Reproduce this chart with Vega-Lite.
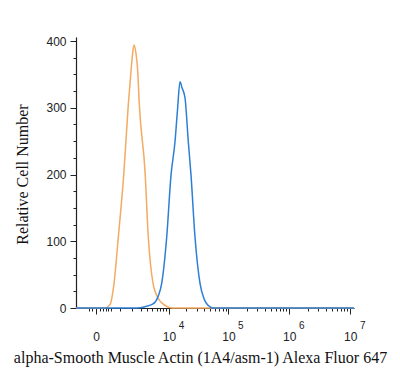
{
  "$schema": "https://vega.github.io/schema/vega-lite/v6.json",
  "width": 278,
  "height": 271,
  "autosize": {"type": "none"},
  "padding": {"left": 76, "top": 37, "right": 46, "bottom": 70},
  "background": "white",
  "config": {
    "view": {"stroke": null},
    "axis": {
      "domainColor": "#222222",
      "domainWidth": 1.2,
      "tickColor": "#222222",
      "tickWidth": 1,
      "labelFont": "Liberation Sans",
      "labelColor": "#222222",
      "titleFont": "Liberation Serif",
      "titleFontWeight": "normal",
      "titleColor": "#111111",
      "titleFontSize": 16,
      "grid": false
    }
  },
  "datasets": {
    "isotype": [
      {"fluorescence": -767, "count": 0},
      {"fluorescence": 275, "count": 0},
      {"fluorescence": 473, "count": 5},
      {"fluorescence": 662, "count": 37},
      {"fluorescence": 898, "count": 106},
      {"fluorescence": 1277, "count": 205},
      {"fluorescence": 1622, "count": 305},
      {"fluorescence": 1869, "count": 355},
      {"fluorescence": 2020, "count": 380},
      {"fluorescence": 2174, "count": 394},
      {"fluorescence": 2390, "count": 382},
      {"fluorescence": 2602, "count": 355},
      {"fluorescence": 2807, "count": 305},
      {"fluorescence": 3643, "count": 205},
      {"fluorescence": 4217, "count": 106},
      {"fluorescence": 5168, "count": 37},
      {"fluorescence": 6382, "count": 15},
      {"fluorescence": 8517, "count": 4},
      {"fluorescence": 11302, "count": 0},
      {"fluorescence": 11535000, "count": 0}
    ],
    "antibody": [
      {"fluorescence": -767, "count": 0},
      {"fluorescence": 2515, "count": 0},
      {"fluorescence": 3643, "count": 2},
      {"fluorescence": 5168, "count": 6},
      {"fluorescence": 6382, "count": 17},
      {"fluorescence": 7440, "count": 37},
      {"fluorescence": 9126, "count": 106},
      {"fluorescence": 10860, "count": 199},
      {"fluorescence": 12735, "count": 249},
      {"fluorescence": 14065, "count": 297},
      {"fluorescence": 15526, "count": 339},
      {"fluorescence": 16797, "count": 330},
      {"fluorescence": 18885, "count": 315},
      {"fluorescence": 21488, "count": 249},
      {"fluorescence": 23868, "count": 199},
      {"fluorescence": 27866, "count": 106},
      {"fluorescence": 33796, "count": 37},
      {"fluorescence": 39413, "count": 14},
      {"fluorescence": 45948, "count": 4},
      {"fluorescence": 55617, "count": 0},
      {"fluorescence": 11535000, "count": 0}
    ]
  },
  "layer": [
    {
      "data": {"name": "isotype"},
      "mark": {"type": "line", "color": "#f4aa60", "strokeWidth": 1.5, "interpolate": "monotone"},
      "encoding": {
        "x": {
          "field": "fluorescence", "type": "quantitative",
          "scale": {"type": "symlog", "constant": 680, "domain": [-767, 11535000], "nice": false, "zero": false},
          "axis": {
            "orient": "bottom",
            "title": "alpha-Smooth Muscle Actin (1A4/asm-1) Alexa Fluor 647",
            "titleX": 124,
            "titleY": 54,
            "titleBaseline": "alphabetic",
            "titleAnchor": "middle",
            "values": [-200, -100, 0, 100, 200, 300, 400, 500, 1000, 2000, 3000, 4000, 5000, 6000, 7000, 8000, 9000, 10000, 20000, 30000, 40000, 50000, 60000, 70000, 80000, 90000, 100000, 200000, 300000, 400000, 500000, 600000, 700000, 800000, 900000, 1000000, 2000000, 3000000, 4000000, 5000000, 6000000, 7000000, 8000000, 9000000, 10000000],
            "tickSize": {"condition": {"test": "datum.value == 0 || datum.value == 10000 || datum.value == 100000 || datum.value == 1000000 || datum.value == 10000000", "value": 6}, "value": 3},
            "labelExpr": "datum.value == 0 ? '0' : (datum.value == 10000 || datum.value == 100000 || datum.value == 1000000 || datum.value == 10000000) ? '10' : ''",
            "labelFontSize": 12,
            "labelBaseline": "alphabetic",
            "labelPadding": 26,
            "labelOverlap": false,
            "labelFlush": false,
            "labelBound": false
          }
        },
        "y": {
          "field": "count", "type": "quantitative",
          "scale": {"domain": [0, 406], "nice": false},
          "axis": {
            "title": "Relative Cell Number",
            "titleX": -49,
            "titleY": 137,
            "titleBaseline": "alphabetic",
            "values": [0, 25, 50, 75, 100, 125, 150, 175, 200, 225, 250, 275, 300, 325, 350, 375, 400],
            "tickSize": {"condition": {"test": "datum.value % 100 == 0", "value": 6}, "value": 3},
            "labelExpr": "datum.value % 100 == 0 ? datum.label : ''",
            "labelFontSize": 12,
            "labelPadding": 4,
            "labelOverlap": false,
            "labelFlush": false
          }
        }
      }
    },
    {
      "data": {"name": "antibody"},
      "mark": {"type": "line", "color": "#2b7fd6", "strokeWidth": 1.5, "interpolate": "monotone"},
      "encoding": {
        "x": {
          "field": "fluorescence", "type": "quantitative",
          "scale": {"type": "symlog", "constant": 680, "domain": [-767, 11535000], "nice": false, "zero": false},
          "axis": {
            "orient": "bottom",
            "title": null,
            "domain": false,
            "ticks": false,
            "tickSize": 0,
            "values": [10000, 100000, 1000000, 10000000],
            "labelExpr": "'' + round(log(datum.value) / LN10)",
            "labelFontSize": 10,
            "labelBaseline": "alphabetic",
            "labelPadding": 20,
            "labelOffset": 12,
            "labelOverlap": false,
            "labelFlush": false,
            "labelBound": false
          }
        },
        "y": {
          "field": "count", "type": "quantitative",
          "scale": {"domain": [0, 406], "nice": false},
          "axis": {
            "title": "Relative Cell Number",
            "titleX": -49,
            "titleY": 137,
            "titleBaseline": "alphabetic",
            "values": [0, 25, 50, 75, 100, 125, 150, 175, 200, 225, 250, 275, 300, 325, 350, 375, 400],
            "tickSize": {"condition": {"test": "datum.value % 100 == 0", "value": 6}, "value": 3},
            "labelExpr": "datum.value % 100 == 0 ? datum.label : ''",
            "labelFontSize": 12,
            "labelPadding": 4,
            "labelOverlap": false,
            "labelFlush": false
          }
        }
      }
    }
  ],
  "resolve": {"axis": {"x": "independent"}}
}
